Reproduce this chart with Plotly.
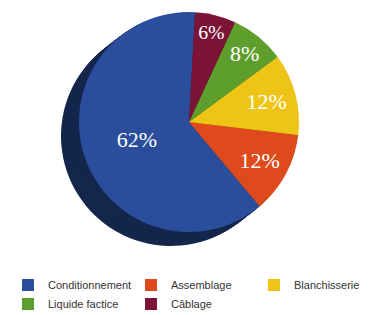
import plotly.graph_objects as go

labels = ["Conditionnement", "Assemblage", "Blanchisserie", "Liquide factice", "Câblage"]
values = [62, 12, 12, 8, 6]
colors = ["#2A4D9C", "#DE4A1C", "#EEC417", "#5E9E2C", "#7B1436"]
side_colors = ["#15264D", "#8A2410", "#8A700C", "#35591A", "#4A0B20"]

W, H = 382, 315
cx, cy, r = 181, 114, 110
dx_max, dy_max = -18, 14
n_layers = 12

fig = go.Figure()

def dom(px_cx, px_cy):
    return dict(x=[(px_cx - r) / W, (px_cx + r) / W],
                y=[1 - (px_cy + r) / H, 1 - (px_cy - r) / H])

for i in range(n_layers, 0, -1):
    f = i / n_layers
    fig.add_trace(go.Pie(
        labels=labels, values=values, sort=False, direction="counterclockwise", rotation=140,
        marker=dict(colors=side_colors, line=dict(width=0)),
        textinfo="none", hoverinfo="skip", showlegend=False,
        domain=dom(cx + dx_max * f, cy + dy_max * f),
    ))

fig.add_trace(go.Pie(
    labels=labels, values=values, sort=False, direction="counterclockwise", rotation=140,
    marker=dict(colors=colors, line=dict(width=0)),
    texttemplate="%{value}%", textposition="inside", insidetextorientation="horizontal",
    textfont=dict(family="Liberation Serif", size=22, color="white"),
    domain=dom(cx, cy),
))

fig.update_layout(
    width=W, height=H, margin=dict(l=0, r=0, t=0, b=0),
    paper_bgcolor="white", plot_bgcolor="white",
    legend=dict(orientation="h", x=0, y=0.014, xanchor="left", yanchor="bottom",
                font=dict(family="Liberation Sans", size=11, color="#333333"),
                itemwidth=30, entrywidth=78, entrywidthmode="pixels", tracegroupgap=0),
)
fig.write_html("out.html")
